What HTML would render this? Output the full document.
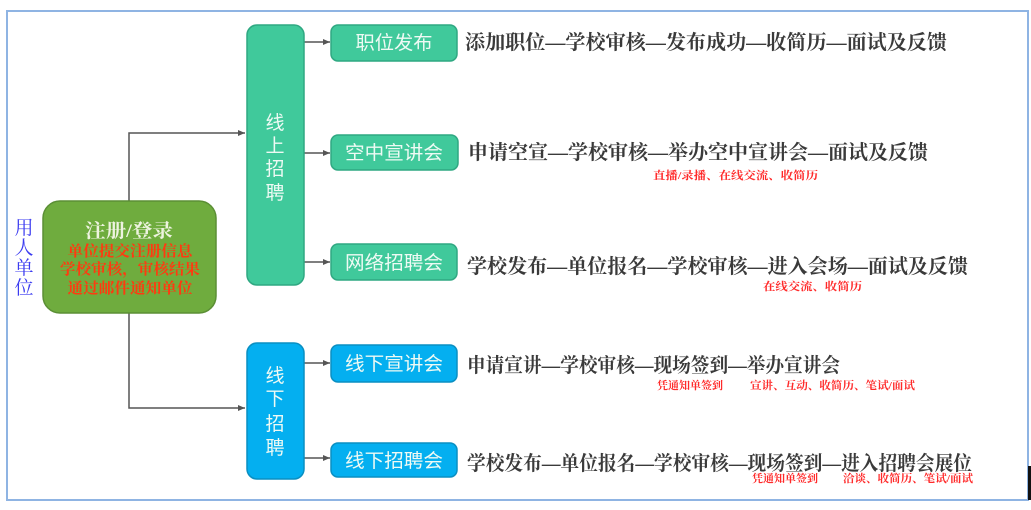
<!DOCTYPE html>
<html><head><meta charset="utf-8"><style>
html,body{margin:0;padding:0;background:#fff;}
svg{display:block;}
.t{font-family:"Liberation Serif","Noto Serif CJK SC",serif;font-weight:bold;fill:#3a3a3a;font-size:20px;}
.r{font-family:"Liberation Serif","Noto Serif CJK SC",serif;font-weight:bold;fill:#ff2a2a;font-size:11px;}
.w{font-family:"Liberation Sans","Noto Sans CJK SC",sans-serif;fill:#eefaf4;font-size:19px;}
</style></head><body>
<svg width="1031" height="510" viewBox="0 0 1031 510" xmlns="http://www.w3.org/2000/svg">
<defs>
<marker id="a" markerWidth="8" markerHeight="8" refX="7" refY="4" orient="auto" markerUnits="userSpaceOnUse">
<path d="M0,1 L7,4 L0,7 z" fill="#555"/>
</marker>
</defs>
<rect x="7" y="11" width="1021" height="489" fill="#fff" stroke="#8fb4e3" stroke-width="2"/>
<rect x="1028" y="466" width="3" height="34" fill="#111"/>

<!-- connectors -->
<g stroke="#555" stroke-width="1.5" fill="none">
<polyline points="129,201 129,133 245,133" marker-end="url(#a)"/>
<polyline points="129,313 129,408 245,408" marker-end="url(#a)"/>
<line x1="304" y1="42" x2="330" y2="42" marker-end="url(#a)"/>
<line x1="304" y1="153" x2="330" y2="153" marker-end="url(#a)"/>
<line x1="304" y1="262" x2="330" y2="262" marker-end="url(#a)"/>
<line x1="304" y1="363" x2="330" y2="363" marker-end="url(#a)"/>
<line x1="304" y1="458" x2="330" y2="458" marker-end="url(#a)"/>
</g>

<!-- user unit -->
<g font-family="Liberation Serif, Noto Serif CJK SC, serif" font-size="19" fill="#3b3bf0" text-anchor="middle">
<text x="24" y="234">用</text>
<text x="24" y="254">人</text>
<text x="24" y="274">单</text>
<text x="24" y="294">位</text>
</g>

<!-- green box -->
<rect x="43" y="201" width="173" height="112" rx="17" fill="#6fac3e" stroke="#5b8f35" stroke-width="1.5"/>
<text x="129" y="237" text-anchor="middle" font-family="Liberation Serif, Noto Serif CJK SC, serif" font-weight="bold" font-size="19" fill="#eef3e0" textLength="88" lengthAdjust="spacingAndGlyphs">注册/登录</text>
<g font-family="Liberation Serif, Noto Serif CJK SC, serif" font-weight="bold" font-size="15" fill="#ff3a10" text-anchor="middle">
<text x="130" y="256" textLength="125" lengthAdjust="spacingAndGlyphs">单位提交注册信息</text>
<text x="130" y="274" textLength="140" lengthAdjust="spacingAndGlyphs">学校审核，审核结果</text>
<text x="130" y="293" textLength="125" lengthAdjust="spacingAndGlyphs">通过邮件通知单位</text>
</g>

<!-- online column -->
<rect x="247" y="25" width="57" height="260" rx="10" fill="#40c99b" stroke="#2fa882" stroke-width="1.5"/>
<g class="w" text-anchor="middle">
<text x="275" y="129">线</text>
<text x="275" y="152">上</text>
<text x="275" y="175">招</text>
<text x="275" y="199">聘</text>
</g>
<!-- offline column -->
<rect x="247" y="343" width="57" height="136" rx="10" fill="#04aff0" stroke="#0a8fc2" stroke-width="1.5"/>
<g class="w" text-anchor="middle" fill="#e8f6ff">
<text x="275" y="382">线</text>
<text x="275" y="405">下</text>
<text x="275" y="430">招</text>
<text x="275" y="454">聘</text>
</g>

<!-- boxes -->
<g stroke-width="1.5">
<rect x="331" y="25" width="126" height="36" rx="7" fill="#40c99b" stroke="#2fa882"/>
<rect x="331" y="135" width="127" height="35" rx="7" fill="#40c99b" stroke="#2fa882"/>
<rect x="331" y="244" width="126" height="36" rx="7" fill="#40c99b" stroke="#2fa882"/>
<rect x="331" y="345" width="126" height="37" rx="7" fill="#04aff0" stroke="#0a8fc2"/>
<rect x="331" y="443" width="126" height="34" rx="7" fill="#04aff0" stroke="#0a8fc2"/>
</g>
<g class="w" text-anchor="middle">
<text x="394" y="49" textLength="77" lengthAdjust="spacingAndGlyphs">职位发布</text>
<text x="394" y="159" textLength="98" lengthAdjust="spacingAndGlyphs">空中宣讲会</text>
<text x="394" y="269" textLength="98" lengthAdjust="spacingAndGlyphs">网络招聘会</text>
<text x="394" y="370" textLength="98" lengthAdjust="spacingAndGlyphs">线下宣讲会</text>
<text x="394" y="467" textLength="98" lengthAdjust="spacingAndGlyphs">线下招聘会</text>
</g>

<!-- flow texts -->
<text class="t" x="465" y="49" textLength="482" lengthAdjust="spacingAndGlyphs">添加职位—学校审核—发布成功—收简历—面试及反馈</text>
<text class="t" x="468" y="159" textLength="460" lengthAdjust="spacingAndGlyphs">申请空宣—学校审核—举办空中宣讲会—面试及反馈</text>
<text class="r" x="653" y="179" textLength="165" lengthAdjust="spacingAndGlyphs">直播/录播、在线交流、收简历</text>
<text class="t" x="467" y="273" textLength="501" lengthAdjust="spacingAndGlyphs">学校发布—单位报名—学校审核—进入会场—面试及反馈</text>
<text class="r" x="763" y="290" textLength="99" lengthAdjust="spacingAndGlyphs">在线交流、收简历</text>
<text class="t" x="467" y="372" textLength="373" lengthAdjust="spacingAndGlyphs">申请宣讲—学校审核—现场签到—举办宣讲会</text>
<text class="r" x="657" y="389" textLength="66" lengthAdjust="spacingAndGlyphs">凭通知单签到</text>
<text class="r" x="750" y="389" textLength="165" lengthAdjust="spacingAndGlyphs">宣讲、互动、收简历、笔试/面试</text>
<text class="t" x="467" y="470" textLength="505" lengthAdjust="spacingAndGlyphs">学校发布—单位报名—学校审核—现场签到—进入招聘会展位</text>
<text class="r" x="752" y="482" textLength="66" lengthAdjust="spacingAndGlyphs">凭通知单签到</text>
<text class="r" x="843" y="482" textLength="130" lengthAdjust="spacingAndGlyphs">洽谈、收简历、笔试/面试</text>
</svg>
</body></html>
